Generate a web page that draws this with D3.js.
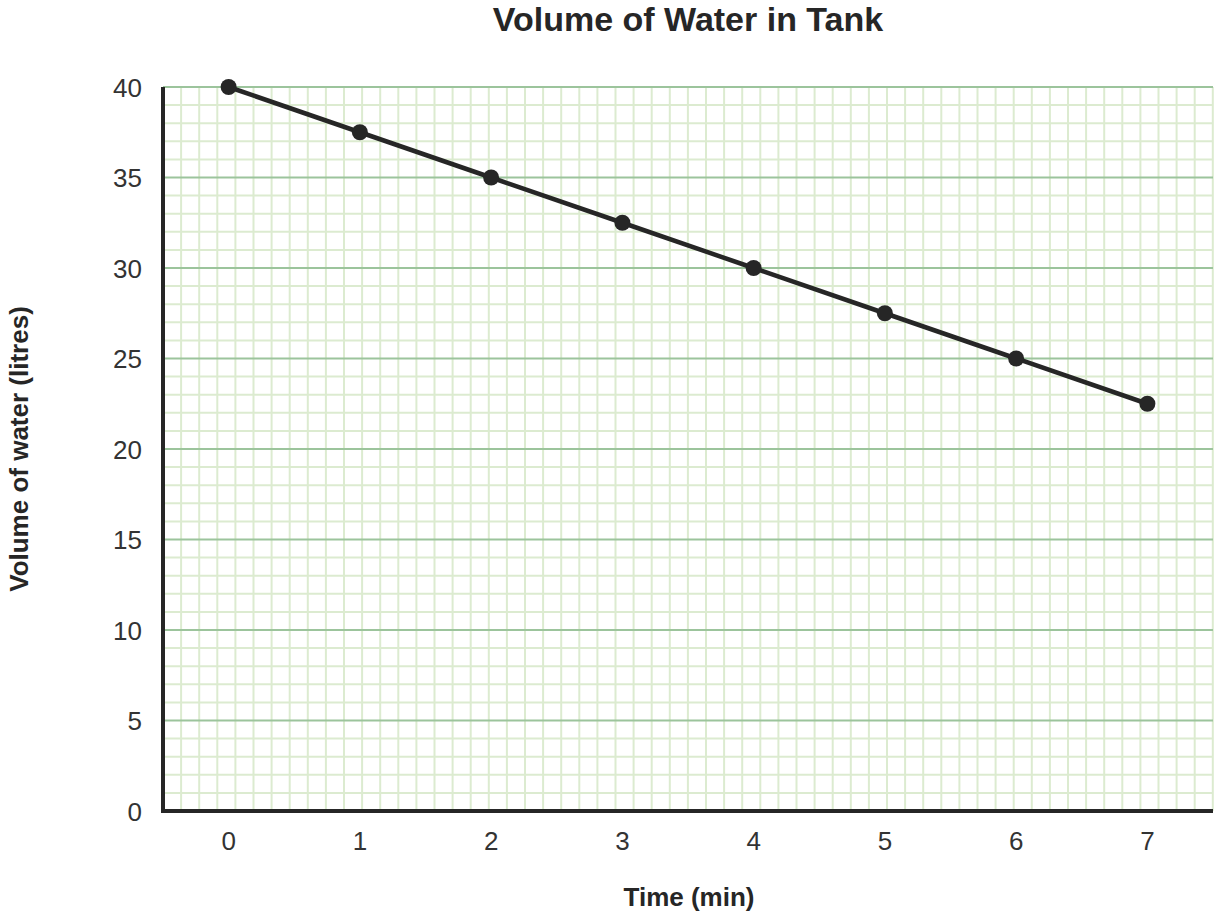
<!DOCTYPE html>
<html><head><meta charset="utf-8">
<script src="https://cdn.jsdelivr.net/npm/d3@7"></script>
<style>body{margin:0;background:#fff;} text{font-family:"Liberation Sans",Arial,sans-serif;}</style>
</head><body><svg id="c" width="1220" height="918"></svg>
<script>
const times = [0,1,2,3,4,5,6,7];
const volumes = [40,37.5,35,32.5,30,27.5,25,22.5];
const yTicks = [0,5,10,15,20,25,30,35,40];
const title = "Volume of Water in Tank";
const xLabel = "Time (min)";
const yLabel = "Volume of water (litres)";

const svg = d3.select("#c");
const L = 163, R = 1213, T = 87, B = 811;
const x = d3.scaleLinear().domain([-0.5,7.5]).range([L,R]);
const y = d3.scaleLinear().domain([0,40]).range([B,T]);
const step = y(0) - y(1);

const g = svg.append("g");
// minor grid (square cells)
const nCols = Math.round((R-L)/step);
g.selectAll(".vmin").data(d3.range(1,nCols+1)).join("line")
  .attr("x1",d=>L+d*step).attr("x2",d=>L+d*step).attr("y1",T).attr("y2",B)
  .attr("stroke","#dcebd0").attr("stroke-width",2);
g.selectAll(".hmin").data(d3.range(1,40).filter(v=>v%5)).join("line")
  .attr("x1",L).attr("x2",R).attr("y1",d=>y(d)).attr("y2",d=>y(d))
  .attr("stroke","#dcebd0").attr("stroke-width",2);
// major grid
g.selectAll(".hmaj").data(yTicks.filter(v=>v>0)).join("line")
  .attr("x1",L).attr("x2",R).attr("y1",d=>y(d)).attr("y2",d=>y(d))
  .attr("stroke","#9cc49c").attr("stroke-width",2);

// axes
svg.append("line").attr("x1",L).attr("x2",L).attr("y1",T).attr("y2",B+2)
  .attr("stroke","#262626").attr("stroke-width",4);
svg.append("line").attr("x1",L-2).attr("x2",R).attr("y1",B).attr("y2",B)
  .attr("stroke","#262626").attr("stroke-width",4);

svg.selectAll(".yt").data(yTicks).join("text")
  .attr("x",142).attr("y",d=>y(d)).attr("dy","0.37em").attr("text-anchor","end")
  .attr("font-size",26).attr("fill","#333").text(d=>d);
svg.selectAll(".xt").data(times).join("text")
  .attr("x",d=>x(d)).attr("y",850).attr("text-anchor","middle")
  .attr("font-size",26).attr("fill","#333").text(d=>d);

// line + points
const pts = times.map((t,i)=>[t,volumes[i]]);
svg.append("path").datum(pts)
  .attr("d",d3.line().x(d=>x(d[0])).y(d=>y(d[1])))
  .attr("fill","none").attr("stroke","#262626").attr("stroke-width",4.5);
svg.selectAll(".pt").data(pts).join("circle")
  .attr("cx",d=>x(d[0])).attr("cy",d=>y(d[1])).attr("r",8).attr("fill","#262626");

svg.append("text").attr("x",688).attr("y",31).attr("text-anchor","middle")
  .attr("font-size",34).attr("font-weight","bold").attr("fill","#262626").text(title);
svg.append("text").attr("x",689).attr("y",906).attr("text-anchor","middle")
  .attr("font-size",26).attr("font-weight","bold").attr("fill","#262626").text(xLabel);
svg.append("text").attr("transform","translate(28,449) rotate(-90)").attr("text-anchor","middle")
  .attr("font-size",26).attr("font-weight","bold").attr("fill","#262626").text(yLabel);
</script></body></html>
